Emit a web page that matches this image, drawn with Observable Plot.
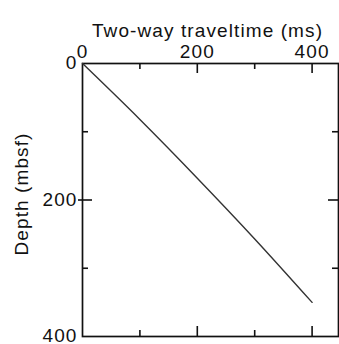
<!DOCTYPE html>
<html><head><meta charset="utf-8">
<script src="https://cdn.jsdelivr.net/npm/d3@7"></script>
<script src="https://cdn.jsdelivr.net/npm/@observablehq/plot@0.6"></script>
<style>
body{margin:0;background:#fff;}
#chart svg{display:block;overflow:visible;}
#chart svg text{letter-spacing:1.1px;}
</style>
</head><body><div id="chart"></div>
<script>
// Data
const traveltime = [0, 100, 200, 300, 400];   // ms
const depth = [0, 82, 168, 257, 350];         // mbsf
const xTickLabels = [0, 200, 400];
const yTickLabels = [0, 200, 400];
const xMajorTicks = [200, 400];
const xMinorTicks = [100, 300];
const yMajorTicks = [200];
const yMinorTicks = [100, 300];
const xTitle = "Two-way traveltime (ms)";
const yTitle = "Depth (mbsf)";

const W = 339, H = 344;
const mL = 82, mT = 63, mB = 8, mR = 1;
const FH = H - mT - mB, FW = W - mL - mR;
const font = "'Liberation Sans', Arial, Helvetica, sans-serif";
const data = traveltime.map((t, i) => ({t, d: depth[i]}));

const chart = Plot.plot({
  width: W, height: H,
  marginLeft: mL, marginTop: mT, marginBottom: mB, marginRight: mR,
  style: {fontFamily: font, color: "#111", background: "#fff", overflow: "visible"},
  x: {domain: [0, 446]},
  y: {domain: [0, 400], reverse: true},
  marks: [
    Plot.frame({stroke: "#111", strokeWidth: 1.7}),
    // top ticks (inward)
    Plot.ruleX(xMajorTicks, {x: d => d, insetBottom: FH - 10, stroke: "#111", strokeWidth: 1.6}),
    Plot.ruleX(xMinorTicks, {x: d => d, insetBottom: FH - 6, stroke: "#111", strokeWidth: 1.6}),
    // bottom ticks (inward)
    Plot.ruleX(xMajorTicks, {x: d => d, insetTop: FH - 10, stroke: "#111", strokeWidth: 1.6}),
    Plot.ruleX(xMinorTicks, {x: d => d, insetTop: FH - 6, stroke: "#111", strokeWidth: 1.6}),
    // left ticks
    Plot.ruleY(yMajorTicks, {y: d => d, insetLeft: -4, insetRight: FW - 10, stroke: "#111", strokeWidth: 1.6}),
    Plot.ruleY(yMinorTicks, {y: d => d, insetRight: FW - 6, stroke: "#111", strokeWidth: 1.6}),
    // right ticks
    Plot.ruleY(yMajorTicks, {y: d => d, insetLeft: FW - 10, stroke: "#111", strokeWidth: 1.6}),
    Plot.ruleY(yMinorTicks, {y: d => d, insetLeft: FW - 6, stroke: "#111", strokeWidth: 1.6}),
    Plot.axisX(xTickLabels, {anchor: "top", tickSize: 0, tickPadding: 6, fontSize: 19, label: null}),
    Plot.axisY(yTickLabels, {anchor: "left", tickSize: 0, tickPadding: 5, fontSize: 19, label: null, dy: -0.5}),
    Plot.text([xTitle], {text: d => d, frameAnchor: "top", dx: -3, dy: -40, fontSize: 19, fill: "#111"}),
    Plot.text([yTitle], {text: d => d, frameAnchor: "left", textAnchor: "middle", rotate: -90, dx: -61, dy: -6, fontSize: 19, fill: "#111"}),
    Plot.line(data, {x: "t", y: "d", stroke: "#333", strokeWidth: 1.4, curve: "monotone-x"})
  ]
});
document.getElementById("chart").append(chart);
</script>
</body></html>
